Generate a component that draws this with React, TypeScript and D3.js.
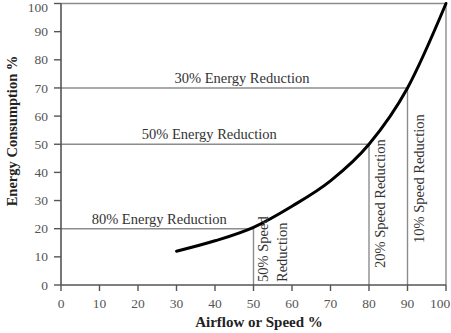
import React from "react";
import * as d3 from "d3";

const speed = [30, 40, 50, 60, 70, 80, 90, 100];
const energy = [12, 15.7, 20.5, 28, 37, 50, 70, 100];
const xTicks = [0, 10, 20, 30, 40, 50, 60, 70, 80, 90, 100];
const yTicks = [0, 10, 20, 30, 40, 50, 60, 70, 80, 90, 100];
// reference lines: [speed, energy]
const refSpeeds = [50, 80, 90, 100];
const refEnergies = [20, 50, 70, 100];
const energyLabels = ["80% Energy Reduction", "50% Energy Reduction", "30% Energy Reduction"];
const energyLabelLevels = [20, 50, 70];
const speedLabels = ["20% Speed Reduction", "10% Speed Reduction"];
const speedLabelPositions = [80, 90];

const W = 451, H = 333;
const serif = "'Liberation Serif', 'Times New Roman', serif";

export default function App() {
  const x = d3.scaleLinear().domain([0, 100]).range([61, 446]);
  const y = d3.scaleLinear().domain([0, 100]).range([285, 3.5]);
  const pts: [number, number][] = speed.map((s, i) => [s, energy[i]]);
  const line = d3
    .line<[number, number]>()
    .x((d) => x(d[0]))
    .y((d) => y(d[1]))
    .curve(d3.curveMonotoneX);
  const grey = "#8c8c8c";
  return (
    <svg
      width={W}
      height={H}
      style={{ position: "absolute", left: 0, top: 0, background: "#fff" }}
      fontFamily={serif}
    >
      <rect width={W} height={H} fill="#fff" />
      {refSpeeds.map((s, i) => (
        <g key={"r" + i}>
          <line x1={x(0)} x2={x(s)} y1={y(refEnergies[i])} y2={y(refEnergies[i])} stroke={grey} strokeWidth={1.4} />
          <line x1={x(s)} x2={x(s)} y1={y(refEnergies[i])} y2={y(0)} stroke={grey} strokeWidth={1.4} />
        </g>
      ))}
      {/* axes */}
      <line x1={x(0)} x2={x(0)} y1={y(100)} y2={y(0)} stroke="#555" strokeWidth={1.6} />
      <line x1={x(0)} x2={x(100)} y1={y(0)} y2={y(0)} stroke="#555" strokeWidth={1.6} />
      {yTicks.map((t) => (
        <g key={"y" + t}>
          <line x1={x(0) - 7} x2={x(0)} y1={y(t)} y2={y(t)} stroke="#555" strokeWidth={1.4} />
          <text x={48} y={Math.max(y(t), 7.5)} dy="0.34em" textAnchor="end" fontSize={13.5} fill="#555">
            {t}
          </text>
        </g>
      ))}
      {xTicks.map((t) => (
        <g key={"x" + t}>
          <line x1={x(t)} x2={x(t)} y1={y(0)} y2={y(0) + 6} stroke="#555" strokeWidth={1.4} />
          <text x={Math.min(x(t), 440)} y={308} textAnchor="middle" fontSize={13.5} fill="#555">
            {t}
          </text>
        </g>
      ))}
      {/* curve */}
      <path d={line(pts) || ""} fill="none" stroke="#000" strokeWidth={3} strokeLinecap="round" />
      {/* energy labels */}
      {energyLabels.map((l, i) => (
        <text
          key={l}
          x={x(energyLabelLevels[i] === 20 ? 25.5 : energyLabelLevels[i] === 50 ? 38.5 : 47)}
          y={y(energyLabelLevels[i]) - 5}
          textAnchor="middle"
          fontSize={14.5}
          fill="#333"
        >
          {l}
        </text>
      ))}
      {/* speed labels */}
      <text transform={`translate(${x(50) + 14},282) rotate(-90)`} fontSize={14.5} fill="#333">
        50% Speed
      </text>
      <text transform={`translate(${x(50) + 33},282) rotate(-90)`} fontSize={14.5} fill="#333">
        Reduction
      </text>
      {speedLabels.map((l, i) => (
        <text
          key={l}
          transform={`translate(${x(speedLabelPositions[i]) + 16},${speedLabelPositions[i] === 80 ? 268 : 243}) rotate(-90)`}
          fontSize={14.5}
          fill="#333"
        >
          {l}
        </text>
      ))}
      {/* axis titles */}
      <text x={259} y={327} textAnchor="middle" fontSize={15} fontWeight="bold" fill="#222">
        Airflow or Speed %
      </text>
      <text
        transform={`translate(17,131) rotate(-90)`}
        textAnchor="middle"
        fontSize={14.5}
        fontWeight="bold"
        fill="#222"
      >
        Energy Consumption %
      </text>
    </svg>
  );
}
